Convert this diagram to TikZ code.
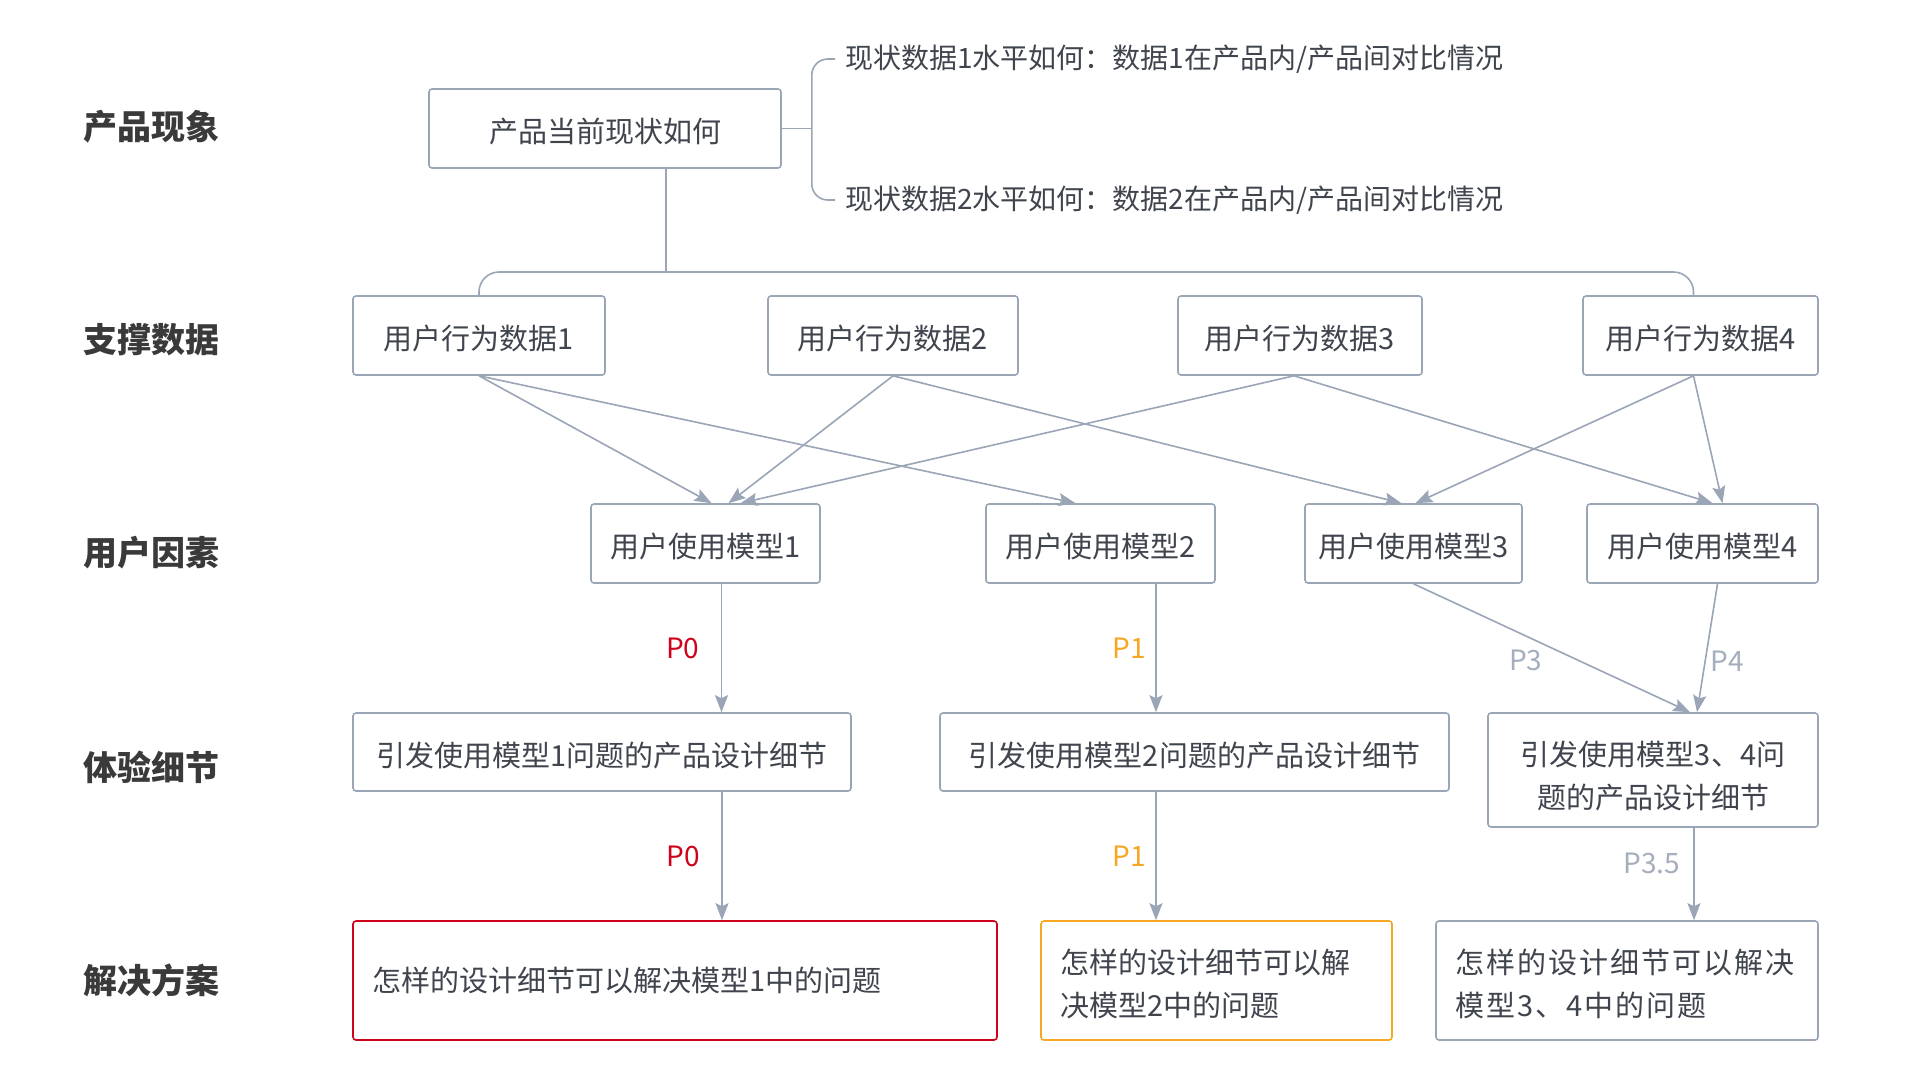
\documentclass[tikz,border=0pt]{standalone}
\usepackage{fontspec}
\setmainfont{Noto Sans CJK SC}
\usetikzlibrary{arrows.meta}
\definecolor{linegray}{HTML}{9AA5B6}
\definecolor{textgray}{HTML}{40444D}
\definecolor{headgray}{HTML}{3A3A3A}
\definecolor{prired}{HTML}{D0021B}
\definecolor{priorange}{HTML}{F5A623}
\definecolor{prigray}{HTML}{A5AEBD}

\begin{document}
\begin{tikzpicture}[x=1pt, y=-1pt,
    every node/.style={font=\fontsize{29}{43}\selectfont, text=textgray},
    frame/.style={draw=linegray, line width=1.6pt, rounded corners=3pt, minimum height=79pt, inner sep=0pt},
    box/.style={frame, align=center, execute at begin node={\rule{0pt}{31pt}}},
    solbox/.style={frame, minimum height=119pt, align=left, inner xsep=19pt},
    rowlabel/.style={anchor=west, inner sep=0pt, font=\fontsize{34}{40}\selectfont\bfseries, text=headgray},
    note/.style={anchor=west, inner sep=10pt, font=\fontsize{28}{34}\selectfont},
    linkline/.style={draw=linegray, line width=1.6pt},
    linkarrow/.style={linkline, -{Stealth[length=17pt, width=13pt, inset=3pt]}},
    prio/.style={font=\fontsize{28}{32}\selectfont}
]
\useasboundingbox[fill=white] (0,0) rectangle (1920,1080);

% row labels
\node[rowlabel] (h1) at (83,127) {产品现象};
\node[rowlabel] (h2) at (83,340) {支撑数据};
\node[rowlabel] (h3) at (83,553) {用户因素};
\node[rowlabel] (h4) at (83,767) {体验细节};
\node[rowlabel] (h5) at (83,980) {解决方案};

% product status
\node[box, minimum width=352pt] (now) at (605,128.5) {产品当前现状如何};
\node[note] (q1) at (835,59) {现状数据1水平如何：数据1在产品内/产品间对比情况};
\node[note] (q2) at (835,200) {现状数据2水平如何：数据2在产品内/产品间对比情况};

% data
\node[box, minimum width=252pt] (d1) at (479,335.5) {用户行为数据1};
\node[box, minimum width=250pt] (d2) at (893,335.5) {用户行为数据2};
\node[box, minimum width=244pt] (d3) at (1300,335.5) {用户行为数据3};
\node[box, minimum width=235pt] (d4) at (1700.5,335.5) {用户行为数据4};

% usage models
\node[box, minimum width=229pt] (m1) at (705.5,543.5) {用户使用模型1};
\node[box, minimum width=229pt] (m2) at (1100.5,543.5) {用户使用模型2};
\node[box, minimum width=217pt] (m3) at (1413.5,543.5) {用户使用模型3};
\node[box, minimum width=231pt] (m4) at (1702.5,543.5) {用户使用模型4};

% details
\node[box, minimum width=498pt, minimum height=78pt] (x1) at (602,752) {引发使用模型1问题的产品设计细节};
\node[box, minimum width=509pt, minimum height=78pt] (x2) at (1194.5,752) {引发使用模型2问题的产品设计细节};
\node[box, minimum width=330pt, minimum height=114pt] (x3) at (1653,770) {\rule{0pt}{36pt}引发使用模型3、4问\\题的产品设计细节};

% solutions
\node[solbox, draw=prired, text width=606pt] (s1) at (675,980.5) {怎样的设计细节可以解决模型1中的问题};
\node[solbox, draw=priorange, text width=313pt] (s2) at (1216.5,980.5) {\rule{0pt}{31pt}怎样的设计细节可以解\\决模型2中的问题};
\node[solbox, text width=344pt] (s3) at (1627,980.5) {\rule{0pt}{31pt}\addfontfeature{LetterSpace=7}怎样的设计细节可以解决\\模型3、4中的问题};

% Connections
\draw[linkline] (now.east) -- ([xshift=30]now.east) coordinate (brk);
\draw[linkline, rounded corners=16pt] (q1.west) -| (brk) |- (q2.west);
\coordinate (hub) at (666,272);
\draw[linkline] ([xshift=61]now.south) -- (hub);
\draw[linkline, rounded corners=20pt] (d1.north) |- (hub) -| ([xshift=-7]d4.north);

\draw[linkarrow] (d1.south) -- ([xshift=6]m1.north);
\draw[linkarrow] (d1.south) -- ([xshift=-25]m2.north);
\draw[linkarrow] (d2.south) -- ([xshift=23]m1.north);
\draw[linkarrow] (d2.south) -- ([xshift=-12]m3.north);
\draw[linkarrow] ([xshift=-6]d3.south) -- ([xshift=35]m1.north);
\draw[linkarrow] ([xshift=-6]d3.south) -- ([xshift=10]m4.north);
\draw[linkarrow] ([xshift=-7]d4.south) -- ([xshift=2]m3.north);
\draw[linkarrow] ([xshift=-7]d4.south) -- ([xshift=20]m4.north);

\draw[linkarrow] ([xshift=16]m1.south) -- ([xshift=16]m1.south |- x1.north)
    node[midway, left, prio, text=prired, xshift=-18] {P0};
\draw[linkarrow] ([xshift=120]x1.south) -- ([xshift=120]x1.south |- s1.north)
    node[midway, left, prio, text=prired, xshift=-18] {P0};
\draw[linkarrow] ([xshift=55.5]m2.south) -- ([xshift=55.5]m2.south |- x2.north)
    node[midway, left, prio, text=priorange, xshift=-6] {P1};
\draw[linkarrow] ([xshift=-38.5]x2.south) -- ([xshift=-38.5]x2.south |- s2.north)
    node[midway, left, prio, text=priorange, xshift=-6] {P1};
\draw[linkarrow] (m3.south) -- ([xshift=37]x3.north)
    node[pos=0.6, left, prio, text=prigray, xshift=-33] {P3};
\draw[linkarrow] ([xshift=15]m4.south) -- ([xshift=44]x3.north)
    node[pos=0.6, right, prio, text=prigray, xshift=1] {P4};
\draw[linkarrow] ([xshift=41]x3.south) -- ([xshift=41]x3.south |- s3.north)
    node[midway, left, prio, text=prigray, xshift=-10, yshift=11] {P3.5};

\end{tikzpicture}
\end{document}
